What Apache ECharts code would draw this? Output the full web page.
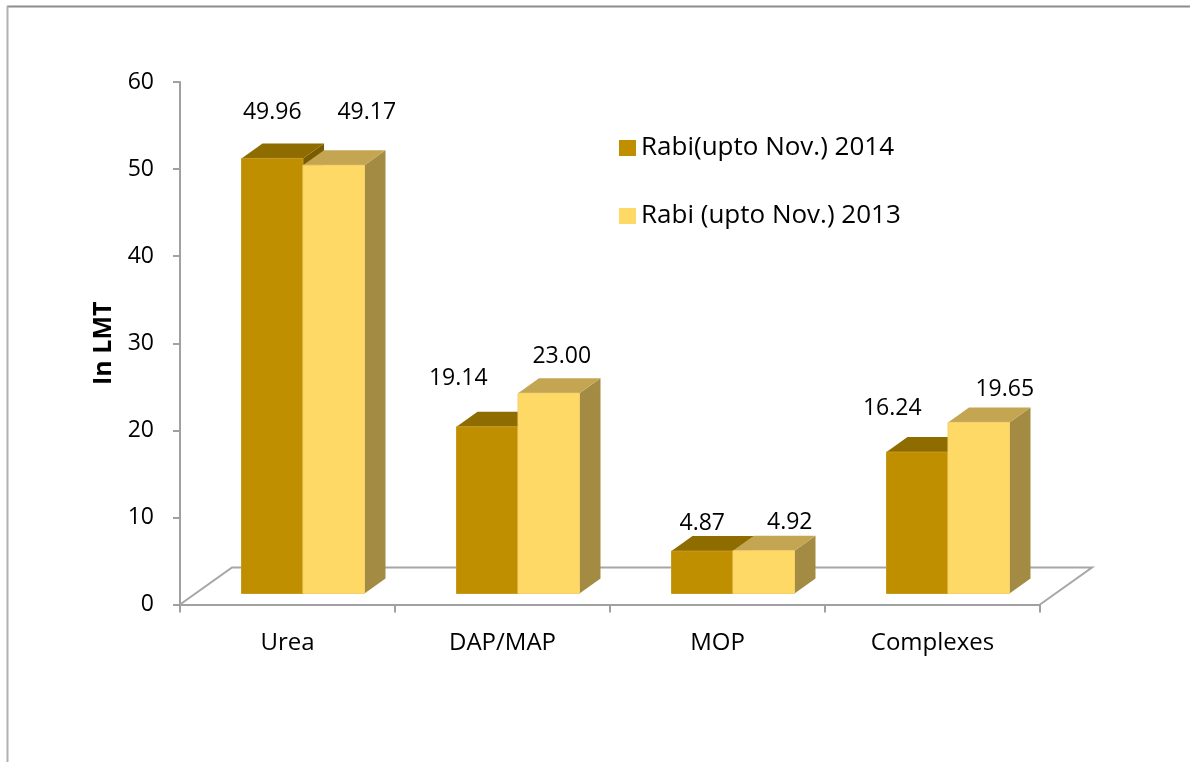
<!DOCTYPE html>
<html><head><meta charset="utf-8">
<script src="https://cdn.jsdelivr.net/npm/echarts@6/dist/echarts.min.js"></script>
<style>html,body{margin:0;padding:0;background:#fff}#c{width:1190px;height:762px}</style>
</head><body><div id="c"></div>
<script>
// ---- data ----
const categories = ['Urea', 'DAP/MAP', 'MOP', 'Complexes'];
const seriesNames = ['Rabi(upto Nov.) 2014', 'Rabi (upto Nov.) 2013'];
const values2014 = [49.96, 19.14, 4.87, 16.24];
const values2013 = [49.17, 23.00, 4.92, 19.65];
const yMin = 0, yMax = 60, yStep = 10;
const yAxisTitle = 'In LMT';

// ---- layout / style ----
const FONT = '"Open Sans", "Liberation Sans", sans-serif';
const FS = 23;
const FRONT = [15.5, -11];   // bar front plane offset from floor front edge
const DEPTH = [21, -15];     // bar depth vector
const FLOOR = [52, -37];     // floor depth vector
const BAR_FRAC = 61.5 / 215;
const labelNudge = [
  [[0, -31], [-29, -33], [0, -13], [-25, -29]],
  [[33, -38], [13, -22], [26, -13], [26, -18]]
];
const palette = [
  {front: '#C08F00', top: '#8F6C00', side: '#7A5C00', edge: '#C49A20'},
  {front: '#FFD966', top: '#C4A652', side: '#A38B43', edge: '#F3D06A'}
];

function makeRender(s) {
  return function (params, api) {
    const i = api.value(0), v = api.value(1);
    const base = api.coord([i, 0]);
    const topP = api.coord([i, v]);
    const bw = api.size([1, 0])[0] * BAR_FRAC;
    const xL = base[0] + FRONT[0] + (s === 0 ? -bw : 0);
    const xR = xL + bw;
    const yB = base[1] + FRONT[1];
    const yT = topP[1] + FRONT[1];
    const dx = DEPTH[0], dy = DEPTH[1];
    const c = palette[s];
    const nud = labelNudge[s][params.dataIndex];
    return {type: 'group', children: [
      {type: 'polygon', shape: {points: [[xR, yB], [xR + dx, yB + dy], [xR + dx, yT + dy], [xR, yT]]}, style: {fill: c.side}},
      {type: 'polygon', shape: {points: [[xL, yT], [xL + dx, yT + dy], [xR + dx, yT + dy], [xR, yT]]}, style: {fill: c.top}},
      {type: 'rect', shape: {x: xL, y: yT, width: bw, height: yB - yT}, style: {fill: c.front, stroke: c.edge, lineWidth: 1}},
      {type: 'text', x: (xL + xR) / 2 + nud[0], y: yT + dy + nud[1],
        style: {text: v.toFixed(2), fontSize: FS, fontFamily: FONT, fill: '#000', align: 'center', verticalAlign: 'middle'}}
    ]};
  };
}

function renderFloor(params, api) {
  const p0 = api.coord([0, yMin]);
  const cs = params.coordSys;
  const y0 = p0[1], x0 = cs.x, x1 = cs.x + cs.width;
  return {type: 'polyline',
    shape: {points: [[x0, y0], [x0 + FLOOR[0], y0 + FLOOR[1]], [x1 + FLOOR[0], y0 + FLOOR[1]], [x1, y0]]},
    style: {stroke: '#A6A6A6', lineWidth: 2, fill: null}};
}

const chart = echarts.init(document.getElementById('c'), null, {renderer: 'canvas'});
const axisLine = {show: true, lineStyle: {color: '#A0A0A0', width: 2}};
chart.setOption({
  backgroundColor: '#fff',
  animation: false,
  textStyle: {fontFamily: FONT},
  graphic: [
    {type: 'line', shape: {x1: 7, y1: 6.5, x2: 1190, y2: 6.5}, style: {stroke: '#8C8C8C', lineWidth: 2}},
    {type: 'line', shape: {x1: 7.5, y1: 6, x2: 7.5, y2: 762}, style: {stroke: '#B0B0B0', lineWidth: 2}}
  ],
  legend: {
    data: seriesNames, orient: 'vertical', left: 614, top: 130,
    icon: 'rect', itemWidth: 17, itemHeight: 16, itemGap: 42,
    textStyle: {fontSize: 26, fontFamily: FONT, color: '#000', lineHeight: 26}
  },
  grid: {left: 180, right: 150, top: 82, bottom: 157.5},
  xAxis: {
    type: 'category', data: categories,
    axisLine: axisLine,
    axisTick: {show: true, length: 8, lineStyle: {color: '#A0A0A0', width: 2}},
    axisLabel: {fontSize: 24, fontFamily: FONT, color: '#000', margin: 27}
  },
  yAxis: {
    type: 'value', min: yMin, max: yMax, interval: yStep,
    name: yAxisTitle, nameLocation: 'middle', nameGap: 59,
    nameTextStyle: {fontSize: 25, fontFamily: FONT, fontWeight: 'bold', color: '#000'},
    axisLine: axisLine,
    axisTick: {show: true, length: 7, lineStyle: {color: '#A0A0A0', width: 2}},
    axisLabel: {fontSize: FS, fontFamily: FONT, color: '#000', margin: 26},
    splitLine: {show: false}
  },
  series: [
    {type: 'custom', name: 'floor', renderItem: renderFloor, data: [[0, 0]], z: 1, silent: true, clip: false},
    {type: 'custom', name: seriesNames[0], renderItem: makeRender(0), itemStyle: {color: palette[0].front},
      data: values2014.map((v, i) => [i, v]), encode: {x: 0, y: 1}, z: 2, silent: true},
    {type: 'custom', name: seriesNames[1], renderItem: makeRender(1), itemStyle: {color: palette[1].front},
      data: values2013.map((v, i) => [i, v]), encode: {x: 0, y: 1}, z: 3, silent: true}
  ]
});
</script>
</body></html>
